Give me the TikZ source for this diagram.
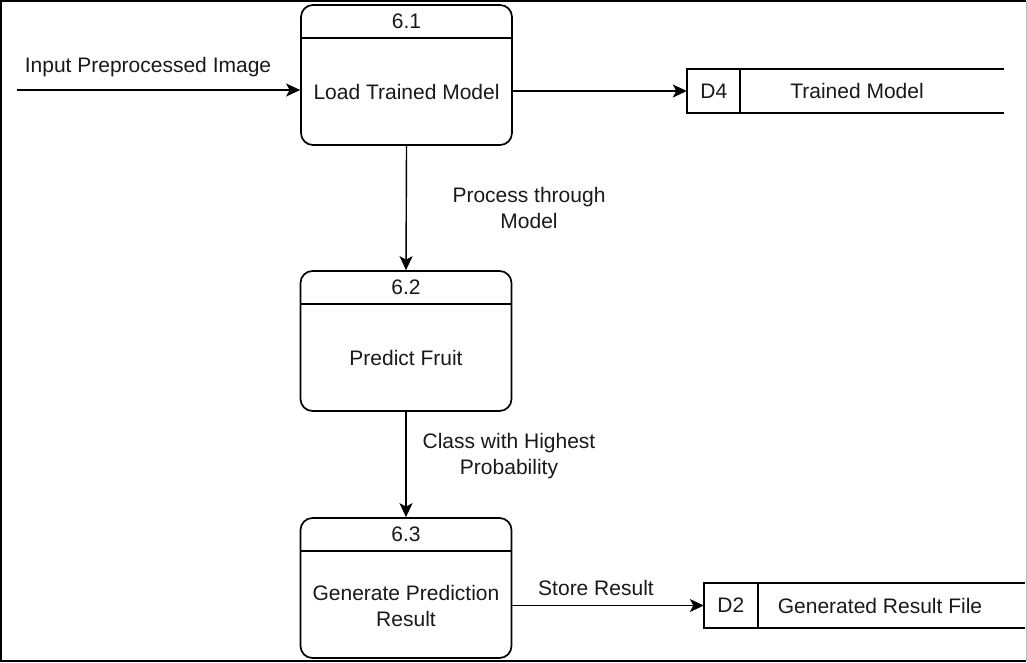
\documentclass[tikz,border=0pt]{standalone}
\usepackage{fontspec}
\setmainfont{Liberation Sans}
\usetikzlibrary{arrows.meta,calc}
\begin{document}
\begin{tikzpicture}[x=1pt,y=-1pt,
  every node/.style={font=\fontsize{21}{26}\selectfont, text=black!90},
  proc/.style={draw, line width=1.7pt, rounded corners=12pt,
    minimum width=211pt, minimum height=140pt, inner sep=0pt},
  storebox/.style={minimum height=44pt, inner sep=0pt},
  storeline/.style={line width=1.5pt},
  flow/.style={-{Stealth[length=14pt,width=13pt,inset=3.5pt]}, line width=1.4pt},
  lbl/.style={align=center}]
\useasboundingbox (0,0) rectangle (1027,662);
% frame
\draw[line width=2pt] (1026,1) -- (1,1) -- (1,661) -- (1026,661);
\draw[gray!55, line width=0.8pt] (1026,1) -- (1026,661);

% processes
\node[proc] (p1) at (406.5,75) {};
\node[proc] (p2) at (406,341) {};
\node[proc] (p3) at (406,588) {};
\foreach \p/\n in {p1/6.1, p2/6.2, p3/6.3}{
  \draw[line width=1.5pt] ($(\p.north west)+(0,34)$) -- ($(\p.north east)+(0,34)$);
  \node (\p-id) at ($(\p.north)+(0,17)$) {\n};
}
\node[lbl] (p1-t) at ($(p1.center)+(0,17)$) {Load Trained Model};
\node[lbl] (p2-t) at ($(p2.center)+(0,17)$) {Predict Fruit};
\node[lbl] (p3-t) at ($(p3.center)+(0,18)$) {Generate Prediction\\Result};

% data stores
\node[storebox, minimum width=317pt] (d4) at (845.5,91) {};
\draw[storeline] (d4.north east) -- (d4.north west) -- (d4.south west) -- (d4.south east);
\draw[storeline] ($(d4.north west)+(53,0)$) -- ($(d4.south west)+(53,0)$);
\node (d4-id) at ($(d4.west)+(27,0)$) {D4};
\node (d4-t) at (857,91) {Trained Model};

\node[storebox, minimum width=321pt, minimum height=45pt] (d2) at (864.5,605.5) {};
\draw[storeline] (d2.north east) -- (d2.north west) -- (d2.south west) -- (d2.south east);
\draw[storeline] ($(d2.north west)+(54,0)$) -- ($(d2.south west)+(54,0)$);
\node (d2-id) at ($(d2.west)+(27,0)$) {D2};
\node (d2-t) at (880,605.5) {Generated Result File};

% flows
\coordinate (src) at (17,90);
\draw[flow] (src) -- (src -| p1.west);
\node (l0) at (148,67) {Input Preprocessed Image};
\draw[flow] (p1.east |- d4.west) -- (d4.west);
\draw[flow] (p1.south) -- (p2.north);
\node[lbl] (l1) at (529,208) {Process through\\Model};
\draw[flow] (p2.south) -- (p3.north);
\node[lbl] (l2) at (509,456) {Class with Highest\\Probability};
\draw[flow] (p3.east |- d2.west) -- (d2.west);
\node (l3) at (596,588) {Store Result};
\end{tikzpicture}
\end{document}
